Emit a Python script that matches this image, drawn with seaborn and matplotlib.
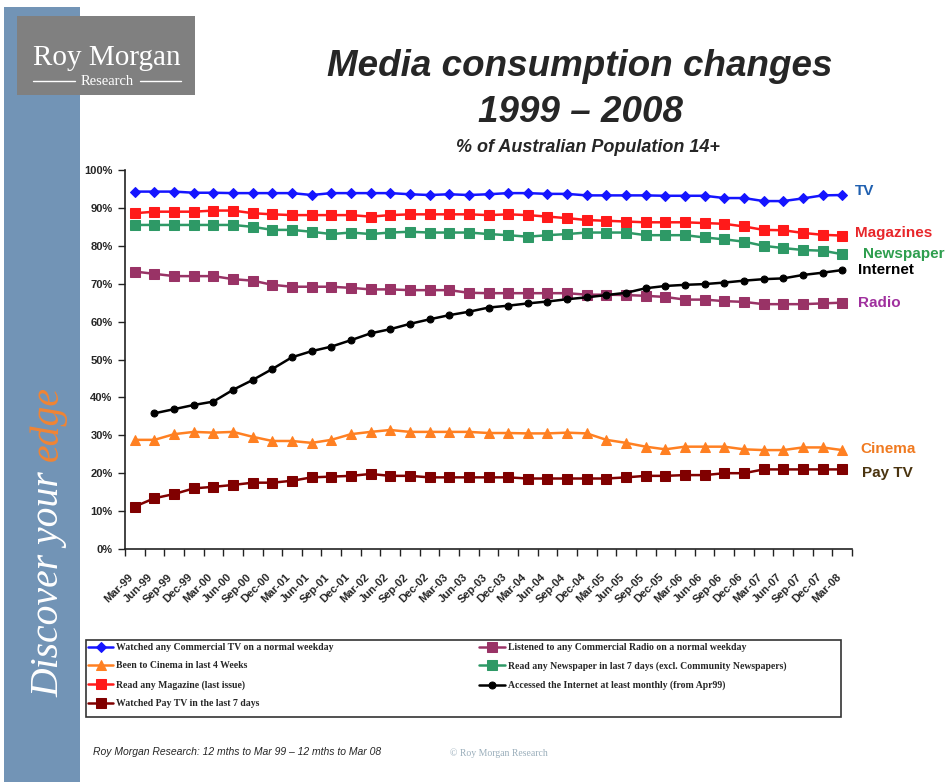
import numpy as np
import pandas as pd
import matplotlib.pyplot as plt
import matplotlib.transforms as mtransforms
from matplotlib.patches import Rectangle
from matplotlib.lines import Line2D
import seaborn as sns

# quarters, 12 mths to Mar 99 ... 12 mths to Mar 08
periods = ["Mar-99", "Jun-99", "Sep-99", "Dec-99", "Mar-00", "Jun-00", "Sep-00", "Dec-00",
           "Mar-01", "Jun-01", "Sep-01", "Dec-01", "Mar-02", "Jun-02", "Sep-02", "Dec-02",
           "Mar-03", "Jun-03", "Sep-03", "Dec-03", "Mar-04", "Jun-04", "Sep-04", "Dec-04",
           "Mar-05", "Jun-05", "Sep-05", "Dec-05", "Mar-06", "Jun-06", "Sep-06", "Dec-06",
           "Mar-07", "Jun-07", "Sep-07", "Dec-07", "Mar-08"]

tv = [94.3, 94.3, 94.3, 94.0, 94.0, 93.9, 93.9, 93.9, 93.9, 93.4, 93.9, 93.9, 93.9, 93.9,
      93.6, 93.4, 93.6, 93.4, 93.6, 93.9, 93.9, 93.7, 93.7, 93.3, 93.3, 93.3, 93.3, 93.2,
      93.2, 93.2, 92.6, 92.6, 91.8, 91.8, 92.5, 93.3, 93.4]
magazines = [88.6, 89.0, 89.0, 89.0, 89.3, 89.3, 88.6, 88.3, 88.1, 88.1, 88.1, 88.1, 87.7,
             88.1, 88.3, 88.3, 88.3, 88.3, 88.1, 88.3, 88.1, 87.7, 87.3, 86.8, 86.6, 86.4,
             86.2, 86.2, 86.2, 86.0, 85.8, 85.1, 84.2, 84.1, 83.4, 82.9, 82.7]
newspapers = [85.5, 85.5, 85.5, 85.5, 85.5, 85.5, 85.0, 84.2, 84.2, 83.7, 83.1, 83.5, 83.1,
              83.5, 83.7, 83.5, 83.5, 83.5, 83.1, 82.8, 82.4, 82.8, 83.1, 83.5, 83.5, 83.5,
              82.8, 82.8, 82.8, 82.2, 81.7, 81.1, 80.0, 79.4, 78.9, 78.7, 77.8]
radio = [73.2, 72.6, 72.0, 72.0, 72.0, 71.2, 70.8, 69.7, 69.2, 69.2, 69.2, 68.9, 68.5, 68.5,
         68.3, 68.3, 68.3, 67.6, 67.5, 67.5, 67.5, 67.5, 67.5, 67.1, 67.1, 67.0, 66.8, 66.5,
         65.8, 65.8, 65.4, 65.2, 64.6, 64.6, 64.6, 64.8, 65.0]
internet = [np.nan, 35.8, 36.9, 38.0, 38.9, 42.0, 44.6, 47.5, 50.6, 52.2, 53.4, 55.1, 56.9,
            58.0, 59.4, 60.6, 61.7, 62.6, 63.7, 64.2, 64.8, 65.3, 65.9, 66.4, 67.0, 67.6,
            68.8, 69.4, 69.7, 69.9, 70.3, 70.8, 71.2, 71.4, 72.3, 72.9, 73.6]
cinema = [28.8, 28.8, 30.3, 30.9, 30.7, 30.9, 29.6, 28.5, 28.5, 28.0, 28.8, 30.3, 30.9, 31.4,
          30.9, 30.9, 30.9, 30.9, 30.6, 30.6, 30.5, 30.5, 30.7, 30.5, 28.8, 28.0, 27.0, 26.3,
          27.0, 27.0, 27.0, 26.3, 26.1, 26.1, 26.8, 26.8, 26.1]
pay_tv = [11.2, 13.4, 14.5, 16.0, 16.4, 16.9, 17.5, 17.5, 18.0, 18.9, 19.1, 19.3, 19.8, 19.3,
          19.3, 18.9, 18.9, 18.9, 18.9, 18.9, 18.6, 18.6, 18.6, 18.6, 18.6, 18.9, 19.3, 19.3,
          19.5, 19.5, 20.0, 20.0, 21.0, 21.0, 21.0, 21.0, 21.0]

legend_labels = {
    "tv": "Watched any Commercial TV on a normal weekday",
    "cinema": "Been to Cinema in last 4 Weeks",
    "magazines": "Read any Magazine (last issue)",
    "pay_tv": "Watched Pay TV in the last 7 days",
    "radio": "Listened to any Commercial Radio on a normal weekday",
    "newspapers": "Read any Newspaper in last 7 days (excl. Community Newspapers)",
    "internet": "Accessed the Internet at least monthly (from Apr99)",
}

sns.set_style("ticks")
plt.rcParams['font.family'] = ['Liberation Sans', 'DejaVu Sans']

W, H = 948, 782
fig = plt.figure(figsize=(W / 100, H / 100), dpi=100)
fig.patch.set_facecolor("white")

def fx(px):
    return px / W

def fy(py):
    return 1 - py / H

# blue side bar and logo
fig.patches.append(Rectangle((fx(4), 0), fx(76), 1 - 7 / H, transform=fig.transFigure,
                             facecolor="#7294b6", edgecolor="none", zorder=0))
fig.patches.append(Rectangle((fx(17), fy(95)), fx(178), 79 / H, transform=fig.transFigure,
                             facecolor="#808080", edgecolor="none", zorder=1))
fig.text(fx(107), fy(65), "Roy Morgan", ha="center", va="baseline", color="white",
         family="Liberation Serif", fontsize=21, zorder=2)
fig.text(fx(107), fy(85), "Research", ha="center", va="baseline", color="white",
         family="Liberation Serif", fontsize=10.5, zorder=2)
for x0, x1 in [(33, 75), (140, 181)]:
    fig.lines.append(Line2D([fx(x0), fx(x1)], [fy(81), fy(81)], transform=fig.transFigure,
                            color="white", lw=1, zorder=2))

t1 = fig.text(fx(58), fy(697), "Discover your ", rotation=90, rotation_mode="anchor",
              ha="left", va="baseline", color="white", family="Liberation Serif",
              fontstyle="italic", fontsize=28.5)
fig.canvas.draw()
bb = t1.get_window_extent()
fig.text(fx(58), bb.y1 / H, "edge", rotation=90, rotation_mode="anchor",
         ha="left", va="baseline", color="#f08434", family="Liberation Serif",
         fontstyle="italic", fontsize=28.5)

# titles
fig.text(fx(580), fy(67), "Media consumption changes", ha="center", va="center",
         fontsize=26.5, fontweight="bold", fontstyle="italic")
fig.text(fx(580), fy(113), "1999 \u2013 2008", ha="center", va="center",
         fontsize=26.5, fontweight="bold", fontstyle="italic")
fig.text(fx(588), fy(148), "% of Australian Population 14+", ha="center", va="center",
         fontsize=13, fontweight="bold", fontstyle="italic")

ax = fig.add_axes([fx(125), fy(549), fx(727), 379 / H])
x = np.arange(len(periods))

series = [
    ("tv", tv, "#1515ff", "D", 5.5),
    ("cinema", cinema, "#ff8022", "^", 6.5),
    ("magazines", magazines, "#ff1a1a", "s", 7),
    ("pay_tv", pay_tv, "#800000", "s", 7),
    ("radio", radio, "#993366", "s", 6.5),
    ("newspapers", newspapers, "#2e9966", "s", 7),
    ("internet", internet, "black", "o", 5),
]
for key, vals, col, mk, ms in series:
    d = pd.DataFrame({"x": x, "v": vals}).dropna()
    sns.lineplot(data=d, x="x", y="v", ax=ax, color=col, marker=mk, markersize=ms,
                 markeredgecolor=col, linewidth=1.8, label=legend_labels[key],
                 errorbar=None)

handles, labels = ax.get_legend_handles_labels()
ax.get_legend().remove()

ax.set_xlim(-0.5, len(periods) - 0.5)
ax.set_ylim(0, 100)
ax.set_xlabel("")
ax.set_ylabel("")
ax.set_yticks(range(0, 101, 10))
ax.set_yticklabels([f"{v}%" for v in range(0, 101, 10)], fontweight="bold", fontsize=8)
ax.set_xticks(x)
ax.set_xticklabels(periods, rotation=45, ha="right", va="center", rotation_mode="anchor",
                   fontweight="bold", fontsize=8)
ax.set_xticks(np.arange(-0.5, len(periods), 1), minor=True)
ax.tick_params(axis="x", which="major", length=0, pad=19)
ax.tick_params(axis="x", which="minor", length=5, width=1, color="#222222", direction="out")
ax.tick_params(axis="y", length=5, width=1, color="#222222", direction="out", pad=4)
offset = mtransforms.ScaledTranslation(-3 / 100, 0, fig.dpi_scale_trans)
for lbl in ax.get_xticklabels():
    lbl.set_transform(lbl.get_transform() + offset)
for side in ["top", "right"]:
    ax.spines[side].set_visible(False)
for side in ["left", "bottom"]:
    ax.spines[side].set_color("#222222")
    ax.spines[side].set_linewidth(1.2)

# series names on the right
right_labels = [("TV", 855, 191, "#2060b0"), ("Magazines", 855, 233, "#e8262a"),
                ("Newspaper", 863, 254, "#2e9e4e"), ("Internet", 858, 270, "black"),
                ("Radio", 858, 303, "#a0309e"), ("Cinema", 860, 449, "#f07a20"),
                ("Pay TV", 862, 473, "#4a3410")]
for txt, px, py, col in right_labels:
    fig.text(fx(px), fy(py), txt, ha="left", va="center", color=col,
             fontsize=11, fontweight="bold")

# legend box
fig.patches.append(Rectangle((fx(86), fy(717)), fx(755), 77 / H, transform=fig.transFigure,
                             facecolor="white", edgecolor="#333333", lw=1.2, zorder=1))
leg = fig.legend(handles, labels, ncol=2, loc="upper left",
                 bbox_to_anchor=(fx(86), fy(641)),
                 prop={"family": "Liberation Serif", "weight": "bold", "size": 7},
                 frameon=False, borderaxespad=0, handlelength=2.6, handletextpad=0.3,
                 labelspacing=0.98, borderpad=0.2, columnspacing=15.0)
leg.set_zorder(2)

fig.text(fx(93), fy(752), "Roy Morgan Research: 12 mths to Mar 99 \u2013 12 mths to Mar 08",
         ha="left", va="center", fontsize=7.5, fontstyle="italic")
fig.text(fx(450), fy(753), "\u00a9 Roy Morgan Research", ha="left", va="center",
         fontsize=7, family="Liberation Serif", color="#9aaebb")

fig.savefig("out.png", dpi=100)
